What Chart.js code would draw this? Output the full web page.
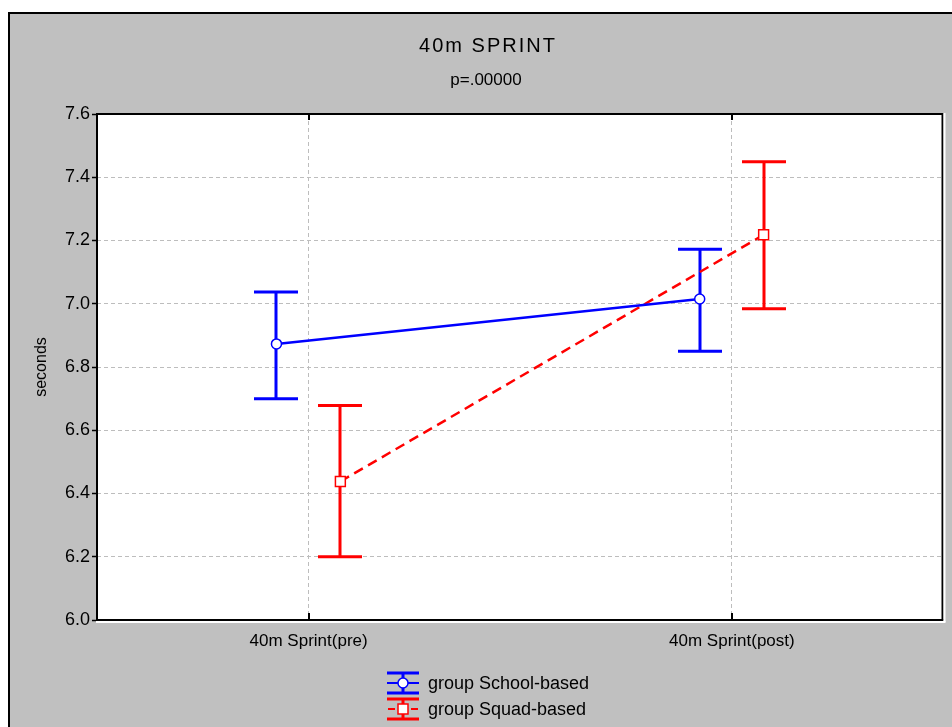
<!DOCTYPE html>
<html>
<head>
<meta charset="utf-8">
<script src="https://cdn.jsdelivr.net/npm/chart.js@4"></script>
<style>
html, body { margin: 0; padding: 0; background: #fff; }
#wrap { width: 952px; height: 727px; }
</style>
</head>
<body>
<div id="wrap"><canvas id="c" width="952" height="727"></canvas></div>
<script>
// texts
var chartTitle = '40m SPRINT';
var chartSubtitle = 'p=.00000';
var yAxisTitle = 'seconds';
var categories = ['40m Sprint(pre)', '40m Sprint(post)'];
var yTicks = [6.0, 6.2, 6.4, 6.6, 6.8, 7.0, 7.2, 7.4, 7.6];
var seriesNames = ['group School-based', 'group Squad-based'];

// means and error bar ends
var schoolMean = [6.873, 7.015];
var schoolLow  = [6.700, 6.850];
var schoolHigh = [7.037, 7.172];
var squadMean  = [6.438, 7.218];
var squadLow   = [6.200, 6.984];
var squadHigh  = [6.678, 7.449];

var FONT = "'Liberation Sans', Arial, sans-serif";
var BLUE = '#0000ff', RED = '#ff0000';
var SHIFT = [-0.076, 0.075];   // side by side offset of the two groups
var CAP = 22;

function pts(means, shift) {
  return means.map(function(v, i){ return { x: i + shift, y: v }; });
}

function errorBars(ctx, sx, sy, low, high, shift, color) {
  ctx.save();
  ctx.strokeStyle = color;
  ctx.lineWidth = 3;
  for (var i = 0; i < low.length; i++) {
    var x = Math.round(sx.getPixelForValue(i + shift));
    var yl = sy.getPixelForValue(low[i]), yh = sy.getPixelForValue(high[i]);
    ctx.beginPath();
    ctx.moveTo(x, yh); ctx.lineTo(x, yl);
    ctx.moveTo(x - CAP, yh); ctx.lineTo(x + CAP, yh);
    ctx.moveTo(x - CAP, yl); ctx.lineTo(x + CAP, yl);
    ctx.stroke();
  }
  ctx.restore();
}

var decor = {
  id: 'decor',
  beforeDraw: function(chart) {
    var ctx = chart.ctx, ca = chart.chartArea;
    ctx.save();
    ctx.fillStyle = '#fff';
    ctx.fillRect(0, 0, chart.width, chart.height);
    ctx.fillStyle = '#c0c0c0';
    ctx.fillRect(8, 12, chart.width - 8, chart.height - 12);
    ctx.fillStyle = '#000';
    ctx.fillRect(8, 12, chart.width - 8, 2);
    ctx.fillRect(8, 12, 2, chart.height - 12);
    ctx.fillStyle = '#fff';
    ctx.fillRect(ca.left, ca.top, ca.right - ca.left, ca.bottom - ca.top);
    // titles
    ctx.fillStyle = '#000';
    ctx.textAlign = 'center';
    ctx.textBaseline = 'middle';
    ctx.font = '20px ' + FONT;
    ctx.letterSpacing = '2px';
    ctx.fillText(chartTitle, 488, 46);
    ctx.letterSpacing = '0px';
    ctx.font = '17px ' + FONT;
    ctx.fillText(chartSubtitle, 486, 80);
    ctx.restore();
  },
  beforeDatasetsDraw: function(chart) {
    var ctx = chart.ctx, sx = chart.scales.x, sy = chart.scales.y;
    errorBars(ctx, sx, sy, schoolLow, schoolHigh, SHIFT[0], BLUE);
    errorBars(ctx, sx, sy, squadLow, squadHigh, SHIFT[1], RED);
  },
  afterDraw: function(chart) {
    var ctx = chart.ctx, ca = chart.chartArea, sx = chart.scales.x;
    ctx.save();
    // plot frame
    ctx.fillStyle = '#000';
    ctx.fillRect(ca.left - 1, ca.top - 1, ca.right - ca.left, 2);
    ctx.fillRect(ca.left - 1, ca.top - 1, 2, ca.bottom - ca.top + 1);
    ctx.fillRect(ca.right - 2, ca.top - 1, 2, ca.bottom - ca.top + 1);
    ctx.fillRect(ca.left - 1, ca.bottom - 1, ca.right - ca.left + 1, 2);
    ctx.fillStyle = '#fff';
    ctx.fillRect(ca.right, ca.top - 1, 2, ca.bottom - ca.top + 3);
    ctx.fillRect(ca.left - 1, ca.bottom + 1, ca.right - ca.left + 3, 2);
    // category tick marks inside the frame
    ctx.fillStyle = '#000';
    [0, 1].forEach(function(v){
      var x = Math.round(sx.getPixelForValue(v));
      ctx.fillRect(x - 1, ca.top, 2, 6);
      ctx.fillRect(x - 1, ca.bottom - 7, 2, 6);
    });

    // legend
    var lx = 403, ly = [683, 709];
    ctx.font = '18px ' + FONT;
    ctx.textAlign = 'left';
    ctx.textBaseline = 'middle';
    ctx.lineWidth = 3;
    [BLUE, RED].forEach(function(col, k){
      var y = ly[k];
      ctx.strokeStyle = col;
      ctx.lineWidth = 3;
      ctx.beginPath();
      ctx.moveTo(lx - 16, y - 10); ctx.lineTo(lx + 16, y - 10);
      ctx.moveTo(lx - 16, y + 10); ctx.lineTo(lx + 16, y + 10);
      ctx.moveTo(lx, y - 10); ctx.lineTo(lx, y + 10);
      ctx.stroke();
      ctx.lineWidth = 2;
      ctx.beginPath();
      if (k === 0) {
        ctx.moveTo(lx - 16, y); ctx.lineTo(lx + 16, y);
      } else {
        ctx.moveTo(lx - 15, y); ctx.lineTo(lx - 8, y);
        ctx.moveTo(lx + 8, y); ctx.lineTo(lx + 15, y);
      }
      ctx.stroke();
      ctx.fillStyle = '#fff';
      ctx.lineWidth = 1.5;
      ctx.beginPath();
      if (k === 0) ctx.arc(lx, y, 5, 0, Math.PI * 2);
      else ctx.rect(lx - 5, y - 5, 10, 10);
      ctx.fill(); ctx.stroke();
      ctx.fillStyle = '#000';
      ctx.fillText(seriesNames[k], 428, y + 1);
    });
    ctx.restore();
  }
};

new Chart(document.getElementById('c'), {
  type: 'scatter',
  data: {
    datasets: [
      {
        label: seriesNames[0], data: pts(schoolMean, SHIFT[0]), showLine: true,
        borderColor: BLUE, borderWidth: 2.5,
        pointStyle: 'circle', pointRadius: 5, pointBorderWidth: 1.5,
        pointBackgroundColor: '#fff', pointBorderColor: BLUE
      },
      {
        label: seriesNames[1], data: pts(squadMean, SHIFT[1]), showLine: true,
        borderColor: RED, borderWidth: 2.5, borderDash: [10, 6],
        pointStyle: 'rect', pointRadius: 7, pointBorderWidth: 1.5,
        pointBackgroundColor: '#fff', pointBorderColor: RED
      }
    ]
  },
  options: {
    responsive: false,
    animation: false,
    devicePixelRatio: 1,
    layout: { padding: { left: 10, right: 7, top: 114, bottom: 0 } },
    plugins: { legend: { display: false }, tooltip: { enabled: false } },
    scales: {
      x: {
        type: 'linear', min: -0.5, max: 1.5,
        afterBuildTicks: function(s){ s.ticks = categories.map(function(c, i){ return { value: i }; }); },
        afterFit: function(s){ s.height = 107; },
        grid: { color: '#bdbdbd', drawTicks: false, tickBorderDash: [] },
        border: { display: false, dash: [4, 3] },
        ticks: {
          color: '#000', padding: 11, maxRotation: 0,
          font: { family: FONT, size: 17 },
          callback: function(v){ return categories[v]; }
        }
      },
      y: {
        min: 6.0, max: 7.6,
        afterBuildTicks: function(s){ s.ticks = yTicks.map(function(v){ return { value: v }; }); },
        afterFit: function(s){ s.width = 87; },
        grid: { color: '#bdbdbd', tickColor: '#000', tickLength: 5, tickWidth: 1.5, tickBorderDash: [] },
        border: { display: false, dash: [4, 3] },
        ticks: {
          color: '#000', padding: 2,
          font: { family: FONT, size: 18 },
          callback: function(v){ return v.toFixed(1); }
        },
        title: {
          display: true, text: yAxisTitle, color: '#000',
          font: { family: FONT, size: 16 }, padding: { top: 22, bottom: 0 }
        }
      }
    }
  },
  plugins: [decor]
});
</script>
</body>
</html>
